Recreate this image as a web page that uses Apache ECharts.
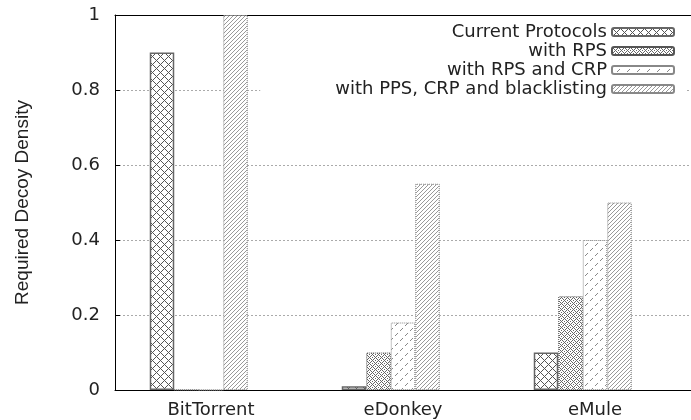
<!DOCTYPE html>
<html><head><meta charset="utf-8">
<script src="https://cdn.jsdelivr.net/npm/echarts@6/dist/echarts.min.js"></script>
<style>html,body{margin:0;padding:0;background:#fff}#c{width:691px;height:420px}</style>
</head><body><div id="c"></div>
<script>
const categories = ['BitTorrent', 'eDonkey', 'eMule'];
const seriesNames = ['Current Protocols', 'with RPS', 'with RPS and CRP', 'with PPS, CRP and blacklisting'];
const currentProtocols = [0.9, 0.01, 0.1];
const withRPS = [0, 0.1, 0.25];
const withRPSandCRP = [0, 0.18, 0.4];
const withPPSCRPBlacklisting = [1.0, 0.55, 0.5];
const yTicks = [0, 0.2, 0.4, 0.6, 0.8, 1];
const yAxisName = 'Required Decoy Density';

function makeTile(size, fn, color) {
  const c = document.createElement('canvas'); c.width = size; c.height = size;
  const ctx = c.getContext('2d');
  ctx.fillStyle = '#fff'; ctx.fillRect(0, 0, size, size);
  ctx.fillStyle = color;
  for (let y = 0; y < size; y++) for (let x = 0; x < size; x++) if (fn(x, y)) ctx.fillRect(x, y, 1, 1);
  return { image: c, repeat: 'repeat' };
}
const m = (a, n) => ((a % n) + n) % n;
const pat0 = makeTile(8, (x, y) => m(x - y, 8) === 0 || m(x + y, 8) === 0, '#555');
const pat1 = makeTile(6, (x, y) => m(x - y, 6) === 0 || m(x + y, 6) === 0 || (x === 3 && y === 0) || (x === 0 && y === 3), '#666');
const pat2 = makeTile(10, (x, y) => m(x + y, 10) === 0 && (x % 5) < 3, '#888');
const pat3 = makeTile(4, (x, y) => m(x + y, 4) === 0, '#999');

const values = [currentProtocols, withRPS, withRPSandCRP, withPPSCRPBlacklisting];
const styles = [
  { color: pat0, borderColor: '#666', borderWidth: 1.5, borderType: 'solid' },
  { color: pat1, borderColor: '#555', borderWidth: 1, borderType: 'dotted' },
  { color: pat2, borderColor: '#888', borderWidth: 1, borderType: 'dotted' },
  { color: pat3, borderColor: '#888', borderWidth: 1, borderType: 'dotted' }
];
const FONT = 'DejaVu Sans';
const series = values.map((d, i) => ({
  name: seriesNames[i], type: 'bar', data: d, barWidth: 24.5, barGap: '0%',
  itemStyle: styles[i], emphasis: { disabled: true }, silent: true
}));
series.push({ name: '_pad', type: 'bar', data: categories.map(() => null), barWidth: 24.5, barGap: '0%', silent: true });

const chart = echarts.init(document.getElementById('c'), null, { renderer: 'canvas' });
chart.setOption({
  animation: false,
  backgroundColor: '#fff',
  grid: { left: 115, top: 15, width: 586.5, height: 375 },
  legend: {
    data: seriesNames, orient: 'vertical', align: 'right',
    right: 6, top: 16, padding: [7, 10, 4, 75], itemGap: 1,
    itemWidth: 62, itemHeight: 8, z: 3,
    backgroundColor: '#fff',
    textStyle: { fontFamily: FONT, fontSize: 18, color: '#222', lineHeight: 18 },
    selectedMode: false
  },
  xAxis: [
    { type: 'category', data: categories, position: 'bottom',
      axisLine: { lineStyle: { color: '#000', width: 1 } },
      axisTick: { inside: true, alignWithLabel: true, length: 5, lineStyle: { color: '#000' } },
      axisLabel: { fontFamily: FONT, fontSize: 18, color: '#222', margin: 11, interval: 0 },
      splitLine: { show: false } },
    { type: 'category', data: categories, position: 'top',
      axisLine: { lineStyle: { color: '#000', width: 1 } },
      axisTick: { inside: true, alignWithLabel: true, length: 5, lineStyle: { color: '#000' } },
      axisLabel: { show: false }, splitLine: { show: false } }
  ],
  yAxis: [{
    type: 'value', min: yTicks[0], max: yTicks[yTicks.length - 1], interval: 0.2,
    name: yAxisName, nameLocation: 'middle', nameGap: 83,
    nameTextStyle: { fontFamily: 'Liberation Sans', fontSize: 19, color: '#222' },
    axisLine: { show: true, lineStyle: { color: '#000', width: 1 } },
    axisTick: { show: true, inside: true, length: 5, lineStyle: { color: '#000' } },
    axisLabel: { fontFamily: FONT, fontSize: 18, color: '#222', margin: 15 },
    splitLine: { show: true, lineStyle: { color: '#aaa', type: [2, 2], width: 1 } }
  }],
  series: series
});
</script></body></html>
